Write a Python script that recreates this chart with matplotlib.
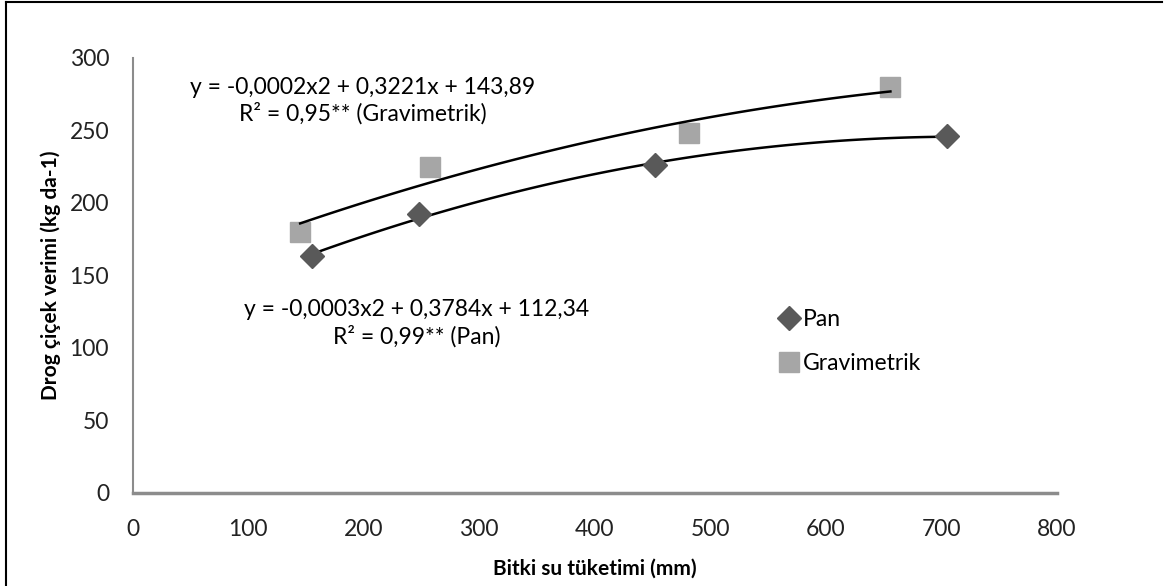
import numpy as np
import matplotlib.pyplot as plt
from matplotlib.lines import Line2D

# Pan
pan_x = [155, 248, 452, 705]
pan_y = [163, 192, 226, 246]
# Gravimetrik
grav_x = [145, 257, 482, 656]
grav_y = [180, 225, 248, 280]

pan_eq = "y = -0,0003x2 + 0,3784x + 112,34\nR² = 0,99** (Pan)"
grav_eq = "y = -0,0002x2 + 0,3221x + 143,89\nR² = 0,95** (Gravimetrik)"

plt.rcParams['font.family'] = ['Lato', 'DejaVu Sans']

fig = plt.figure(figsize=(11.66, 5.86), dpi=100)
ax = fig.add_axes([0.1138, 0.1592, 0.7925, 0.742])

# trend lines (2nd order polynomial, as excel)
for xs, ys in [(grav_x, grav_y), (pan_x, pan_y)]:
    c = np.polyfit(xs, ys, 2)
    xx = np.linspace(min(xs), max(xs), 100)
    ax.plot(xx, np.polyval(c, xx), color='black', lw=1.8, zorder=3)

ax.plot(pan_x, pan_y, 'D', color='#595959', ms=12, label='Pan', zorder=4)
ax.plot(grav_x, grav_y, 's', color='#A6A6A6', ms=15, label='Gravimetrik', zorder=2)

ax.set_xlim(0, 800)
ax.set_ylim(0, 300)
ax.set_xticks(range(0, 801, 100))
ax.set_yticks(range(0, 301, 50))
for s in ['top', 'right']:
    ax.spines[s].set_visible(False)
for s in ['left', 'bottom']:
    ax.spines[s].set_color('#8C8C8C')
ax.spines['left'].set_linewidth(1.5)
ax.spines['bottom'].set_linewidth(2.5)
ax.tick_params(length=0, labelsize=16.5, colors='#222222')
ax.tick_params(axis='x', pad=19)
ax.tick_params(axis='y', pad=17)

ax.set_xlabel('Bitki su tüketimi (mm)', fontsize=15, fontweight='bold')
ax.set_ylabel('Drog çiçek verimi (kg da-1)', fontsize=15, fontweight='bold')
ax.xaxis.set_label_coords(0.5, -0.152)
ax.yaxis.set_label_coords(-0.078, 0.5)

ax.text(199, 270.5, grav_eq, ha='center', va='center', fontsize=16.5,
        linespacing=1.25)
ax.text(246, 117, pan_eq, ha='center', va='center', fontsize=16.5,
        linespacing=1.25)

ax.legend(loc='center left', bbox_to_anchor=(0.683, 0.348), frameon=False,
          fontsize=16.5, handletextpad=0.0, labelspacing=1.0,
          handlelength=1.2, borderpad=0)

# chart border (top and left visible)
fig.add_artist(Line2D([6 / 1166, 1162 / 1166], [1 - 2 / 586, 1 - 2 / 586],
                      color='black', lw=1.5))
fig.add_artist(Line2D([6 / 1166, 6 / 1166], [0, 1 - 2 / 586],
                      color='black', lw=1.5))

fig.savefig('out.png', dpi=100)
